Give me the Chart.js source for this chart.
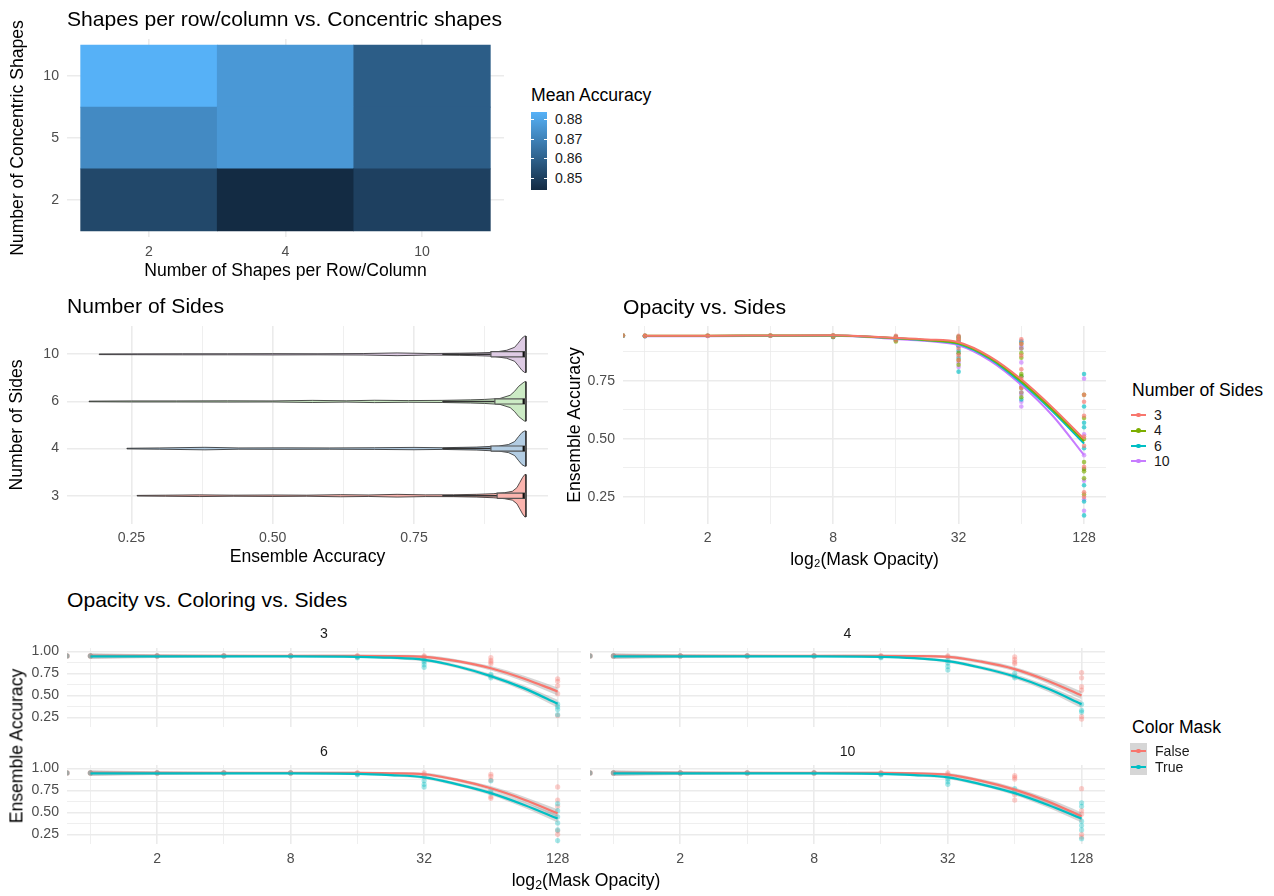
<!DOCTYPE html>
<html>
<head>
<meta charset="utf-8">
<script src="https://cdn.jsdelivr.net/npm/chart.js@4.4.1/dist/chart.umd.min.js"></script>
<style>
    body { margin: 0; background: #fff; }
    #page { position: relative; width: 1274px; height: 896px; overflow: hidden; font-family: "Liberation Sans", Arial, sans-serif; }
    #page canvas { position: absolute; }
    .txt { position: absolute; white-space: nowrap; line-height: 1.2; color: #000; }
    .txt sub { font-size: 70%; vertical-align: -0.25em; line-height: 0; }
    .box { position: absolute; }
</style>
</head>
<body>
<div id="page"></div>
<script>
// ─── Data ──────────────────────────────────────────────────────────────

// heatmap: mean accuracy, one array per number of concentric shapes
const shapesPerRow = ['2', '4', '10'];
const concentric   = ['2', '5', '10'];
const accConc2  = [0.8527, 0.8440, 0.8504];
const accConc5  = [0.8724, 0.8766, 0.8590];
const accConc10 = [0.8840, 0.8766, 0.8590];
const colorbarTicks = [0.85, 0.86, 0.87, 0.88];

// violins: accuracy knots and relative density (1 = widest violin)
const sideLevels = ['3', '4', '6', '10'];
const violinAcc3  = [0.26, 0.31, 0.37, 0.43, 0.50, 0.56, 0.62, 0.67, 0.72, 0.77, 0.82, 0.86, 0.89, 0.91, 0.924, 0.932, 0.937, 0.942, 0.946, 0.948];
const violinDen3  = [0.015, 0.025, 0.04, 0.025, 0.035, 0.025, 0.05, 0.035, 0.065, 0.04, 0.045, 0.065, 0.095, 0.14, 0.21, 0.38, 0.62, 0.86, 1.0, 1.0];
const violinAcc4  = [0.242, 0.30, 0.38, 0.44, 0.52, 0.60, 0.68, 0.75, 0.80, 0.86, 0.90, 0.917, 0.928, 0.935, 0.941, 0.946, 0.948];
const violinDen4  = [0.015, 0.03, 0.06, 0.03, 0.035, 0.03, 0.04, 0.055, 0.04, 0.07, 0.12, 0.19, 0.33, 0.57, 0.76, 0.83, 0.83];
const violinAcc6  = [0.175, 0.25, 0.33, 0.42, 0.50, 0.57, 0.63, 0.68, 0.74, 0.80, 0.85, 0.875, 0.902, 0.92, 0.928, 0.935, 0.943, 0.946, 0.948];
const violinDen6  = [0.015, 0.025, 0.025, 0.03, 0.025, 0.05, 0.03, 0.055, 0.04, 0.05, 0.075, 0.095, 0.14, 0.29, 0.48, 0.71, 0.88, 0.93, 0.93];
const violinAcc10 = [0.193, 0.26, 0.34, 0.42, 0.50, 0.58, 0.66, 0.72, 0.78, 0.83, 0.86, 0.89, 0.914, 0.928, 0.934, 0.941, 0.946, 0.948];
const violinDen10 = [0.015, 0.02, 0.025, 0.025, 0.03, 0.025, 0.035, 0.065, 0.035, 0.05, 0.065, 0.09, 0.19, 0.33, 0.52, 0.76, 0.86, 0.86];
const boxQ1      = [0.897, 0.886, 0.893, 0.886];
const boxMedian  = [0.944, 0.944, 0.944, 0.944];
const boxQ3      = [0.947, 0.947, 0.947, 0.947];
const whiskerLow = [0.80, 0.80, 0.80, 0.80];

// mask opacity levels (0 sits at -Inf on the log2 axis)
const opacity = [0, 1, 2, 4, 8, 16, 32, 64, 128];
// smoothed fits are read at these log2(opacity) values
const fitLog2 = [0, 1, 2, 3, 4, 4.5, 5, 5.5, 6, 6.5, 7];

// opacity vs. sides: smoothed fit, raw points per opacity level
const fitSides3  = [0.945, 0.945, 0.946, 0.947, 0.936, 0.929, 0.917, 0.855, 0.757, 0.635, 0.50];
const fitSides4  = [0.945, 0.945, 0.946, 0.946, 0.934, 0.926, 0.912, 0.849, 0.749, 0.626, 0.49];
const fitSides6  = [0.944, 0.944, 0.945, 0.946, 0.934, 0.925, 0.909, 0.845, 0.742, 0.618, 0.48];
const fitSides10 = [0.943, 0.943, 0.944, 0.945, 0.931, 0.922, 0.904, 0.838, 0.733, 0.600, 0.43];
const ptsSides3 = [[0.946], [0.946, 0.944], [0.946, 0.944], [0.946, 0.945], [0.947, 0.942], [0.945, 0.935, 0.925],
    [0.945, 0.935, 0.925, 0.91, 0.89, 0.86, 0.84], [0.93, 0.91, 0.89, 0.86, 0.80, 0.76, 0.72, 0.70],
    [0.69, 0.66, 0.60, 0.51, 0.47, 0.38, 0.27, 0.25]];
const ptsSides4 = [[0.946], [0.945, 0.944], [0.945], [0.946], [0.946, 0.94], [0.94, 0.93, 0.92],
    [0.94, 0.93, 0.91, 0.87, 0.84, 0.82], [0.91, 0.87, 0.85, 0.78, 0.77, 0.72, 0.68],
    [0.69, 0.59, 0.50, 0.40, 0.37, 0.36, 0.33, 0.26]];
const ptsSides6 = [[0.945], [0.945, 0.943], [0.945], [0.945], [0.945, 0.94], [0.94, 0.93, 0.925],
    [0.94, 0.92, 0.90, 0.88, 0.85, 0.79], [0.92, 0.89, 0.77, 0.74, 0.70, 0.67],
    [0.78, 0.64, 0.57, 0.55, 0.46, 0.30, 0.23, 0.17]];
const ptsSides10 = [[0.945], [0.944, 0.943], [0.944], [0.945], [0.945, 0.94], [0.94, 0.935, 0.93],
    [0.935, 0.92, 0.90, 0.87, 0.83, 0.81], [0.92, 0.90, 0.83, 0.73, 0.69, 0.66, 0.64],
    [0.76, 0.52, 0.43, 0.37, 0.32, 0.24, 0.19]];

// opacity vs. coloring vs. sides: fits, confidence half-width, raw points
const maskLevels = ['False', 'True'];
const ciHalf = [0.03, 0.018, 0.012, 0.01, 0.012, 0.014, 0.018, 0.02, 0.025, 0.033, 0.045];
const fitFalse3  = [0.95, 0.95, 0.95, 0.95, 0.95, 0.948, 0.94, 0.89, 0.81, 0.69, 0.545];
const fitTrue3   = [0.945, 0.945, 0.945, 0.945, 0.94, 0.93, 0.905, 0.83, 0.72, 0.58, 0.405];
const fitFalse4  = [0.95, 0.95, 0.95, 0.95, 0.95, 0.948, 0.94, 0.885, 0.80, 0.665, 0.50];
const fitTrue4   = [0.945, 0.945, 0.945, 0.945, 0.94, 0.925, 0.89, 0.815, 0.715, 0.575, 0.40];
const fitFalse6  = [0.95, 0.95, 0.95, 0.95, 0.95, 0.945, 0.935, 0.87, 0.775, 0.645, 0.49];
const fitTrue6   = [0.945, 0.945, 0.945, 0.945, 0.94, 0.925, 0.90, 0.82, 0.72, 0.585, 0.43];
const fitFalse10 = [0.95, 0.95, 0.95, 0.95, 0.95, 0.945, 0.93, 0.86, 0.76, 0.625, 0.455];
const fitTrue10  = [0.945, 0.945, 0.945, 0.945, 0.94, 0.925, 0.90, 0.82, 0.72, 0.585, 0.43];
const ptsFalse3 = [[0.95, 0.95, 0.95], [0.95, 0.95, 0.95], [0.95, 0.95, 0.95], [0.95, 0.95, 0.95], [0.95, 0.95, 0.95],
    [0.95, 0.94, 0.95], [0.95, 0.94, 0.93], [0.93, 0.90, 0.88, 0.86], [0.69, 0.66, 0.61, 0.52, 0.27]];
const ptsTrue3 = [[0.95], [0.95], [0.95], [0.95], [0.95], [0.94, 0.93], [0.90, 0.88, 0.85, 0.82], [0.74, 0.72, 0.70], [0.40, 0.37, 0.34, 0.28]];
const ptsFalse4 = [[0.95, 0.95, 0.95], [0.95, 0.95, 0.95], [0.95, 0.95, 0.95], [0.95, 0.95, 0.95], [0.95, 0.95, 0.95],
    [0.95, 0.94, 0.95], [0.95, 0.94], [0.94, 0.91, 0.88, 0.86], [0.76, 0.70, 0.60, 0.56, 0.26, 0.23]];
const ptsTrue4 = [[0.95], [0.95], [0.95], [0.95], [0.95], [0.94, 0.93], [0.90, 0.87, 0.83, 0.79], [0.75, 0.72, 0.70], [0.40, 0.33, 0.31]];
const ptsFalse6 = [[0.95, 0.95, 0.95], [0.95, 0.95, 0.95], [0.95, 0.95, 0.95], [0.95, 0.95, 0.95], [0.95, 0.95, 0.95],
    [0.95, 0.94, 0.95], [0.95, 0.93, 0.91], [0.935, 0.91, 0.87, 0.68, 0.66], [0.79, 0.64, 0.57, 0.29, 0.25]];
const ptsTrue6 = [[0.95], [0.95], [0.95], [0.95], [0.95], [0.94, 0.93], [0.86, 0.82, 0.79], [0.86, 0.75, 0.72], [0.60, 0.52, 0.45, 0.38, 0.30, 0.18]];
const ptsFalse10 = [[0.95, 0.95, 0.95], [0.95, 0.95, 0.95], [0.95, 0.95, 0.95], [0.95, 0.95, 0.95], [0.95, 0.95, 0.95],
    [0.95, 0.94, 0.95], [0.95, 0.93], [0.92, 0.90, 0.88, 0.70, 0.64], [0.77, 0.52, 0.48, 0.25, 0.22]];
const ptsTrue10 = [[0.95], [0.95], [0.95], [0.95], [0.95], [0.94, 0.93], [0.88, 0.85, 0.82], [0.77, 0.74], [0.61, 0.57, 0.40, 0.35, 0.30, 0.20]];

// ─── Styles ────────────────────────────────────────────────────────────

const FONT = '"Liberation Sans", Arial, sans-serif';
const TITLE_PX = 21.1, AXIS_PX = 17.6, TICK_PX = 14.1;
const GRID = '#EBEBEB';
const sideColors = ['#F8766D', '#7CAE00', '#00BFC4', '#C77CFF'];
const pastel     = ['#FBB4AE', '#B3CDE3', '#CCEBC5', '#DECBE4'];
const maskColors = ['#F8766D', '#00BFC4'];
const X_MIN = -0.35, X_MAX = 7.35;   // log2 axis limits; -Inf goes to X_MIN
const VIOLIN_HALF = 0.45, BOX_HALF = 0.055;

Chart.defaults.font.family = FONT;
Chart.defaults.color = '#4D4D4D';
Chart.defaults.animation = false;
Chart.defaults.events = [];
Chart.defaults.plugins.legend.display = false;
Chart.defaults.plugins.tooltip.enabled = false;

const page = document.getElementById('page');

// ─── Helpers ───────────────────────────────────────────────────────────

function addCanvas(left, top, w, h) {
    const c = document.createElement('canvas');
    c.width = w; c.height = h;
    c.style.cssText = `left:${left}px; top:${top}px; width:${w}px; height:${h}px;`;
    page.appendChild(c);
    return c;
}

function addText(html, x, cy, size, opts = {}) {
    const d = document.createElement('div');
    d.className = 'txt';
    d.innerHTML = html;
    d.style.fontSize = size + 'px';
    d.style.left = x + 'px';
    d.style.top = (cy - size * (opts.k || 0.6)) + 'px';
    if (opts.color) d.style.color = opts.color;
    if (opts.center) d.style.transform = 'translateX(-50%)';
    if (opts.rotate) {
        d.style.top = cy + 'px';
        d.style.transform = 'translate(-50%, -50%) rotate(-90deg)';
    }
    page.appendChild(d);
    return d;
}

function addBox(x, y, w, h, bg, radius) {
    const d = document.createElement('div');
    d.className = 'box';
    d.style.cssText = `left:${x}px; top:${y}px; width:${w}px; height:${h}px; background:${bg};` +
        (radius ? `border-radius:${radius}px;` : '');
    page.appendChild(d);
}

function rgba(hex, a) {
    const n = parseInt(hex.slice(1), 16);
    return `rgba(${n >> 16}, ${(n >> 8) & 255}, ${n & 255}, ${a})`;
}

const near = (list, v) => list.some(m => Math.abs(m - v) < 1e-6);

// linear axis with fixed box size, explicit ticks, major/minor grid
function axis(o) {
    const majors = o.majors || o.ticks;
    return {
        type: 'linear',
        min: o.min, max: o.max,
        offset: false,
        border: { display: false },
        grid: {
            color: GRID, drawTicks: false, offset: false,
            lineWidth: c => (c.tick && near(majors, c.tick.value)) ? 1.6 : 0.8
        },
        afterBuildTicks: s => { s.ticks = o.ticks.map(v => ({ value: v })); },
        afterFit: s => {
            if (s.isHorizontal()) s.height = o.size; else s.width = o.size;
            s.paddingTop = s.paddingBottom = s.paddingLeft = s.paddingRight = 0;
        },
        ticks: {
            display: o.labels !== false,
            autoSkip: false, maxRotation: 0, minRotation: 0,
            padding: o.tickPad ?? 8,
            font: { size: TICK_PX },
            color: '#4D4D4D',
            callback: v => near(majors, v) ? o.fmt(v) : ''
        },
        title: o.title
            ? { display: true, text: o.title, color: '#000', font: { size: AXIS_PX }, padding: o.titlePad }
            : { display: false }
    };
}

const lx = o => o === 0 ? X_MIN : Math.log2(o);

function pointsFrom(rows) {
    const out = [];
    rows.forEach((vals, i) => vals.forEach(v => out.push({ x: lx(opacity[i]), y: v })));
    return out;
}

function curve(vals, sign = 0) {
    return fitLog2.map((x, i) => ({ x, y: vals[i] + sign * ciHalf[i] }));
}

const log2Ticks  = [0, 1, 2, 3, 4, 5, 6, 7];
const log2Majors = [1, 3, 5, 7];

// ─── Heatmap ───────────────────────────────────────────────────────────

const concRows = [accConc2, accConc5, accConc10];
const allAcc = concRows.flat();
const accMin = Math.min(...allAcc), accMax = Math.max(...allAcc);
const LOW = [19, 43, 67], HIGH = [86, 177, 247];

function accColor(v) {
    const t = (v - accMin) / (accMax - accMin);
    return 'rgb(' + LOW.map((c, k) => Math.round(c + (HIGH[k] - c) * t)).join(',') + ')';
}

new Chart(addCanvas(0, 0, 520, 290), {
    type: 'bar',
    data: {
        datasets: concRows.map((row, r) => ({
            data: row.map((v, c) => ({ x: c + 1, y: [r + 0.5, r + 1.5] })),
            backgroundColor: row.map(accColor),
            grouped: false,
            barPercentage: 1,
            categoryPercentage: 1,
            borderWidth: 0
        }))
    },
    options: {
        responsive: false,
        layout: { padding: { top: 39, right: 16, bottom: 5, left: 0 } },
        scales: {
            x: axis({ min: 0.4, max: 3.6, ticks: [1, 2, 3], fmt: v => shapesPerRow[v - 1], size: 48, tickPad: 7,
                title: 'Number of Shapes per Row/Column', titlePad: { top: 0, bottom: 2.9 } }),
            y: axis({ min: 0.4, max: 3.6, ticks: [1, 2, 3], fmt: v => concentric[v - 1], size: 67,
                title: 'Number of Concentric Shapes', titlePad: { top: 7.9, bottom: 0 } })
        }
    }
});

// colorbar legend
const CB = { left: 531, top: 112, w: 16, h: 78 };
const stops = [];
for (let k = 0; k <= 10; k++) {
    stops.push(accColor(accMax - (accMax - accMin) * k / 10) + ' ' + (k * 10) + '%');
}
addBox(CB.left, CB.top, CB.w, CB.h, 'linear-gradient(to bottom, ' + stops.join(', ') + ')');
colorbarTicks.forEach(v => {
    const y = CB.top + (accMax - v) / (accMax - accMin) * CB.h;
    addBox(CB.left, y - 0.5, 3, 1, '#fff');
    addBox(CB.left + CB.w - 3, y - 0.5, 3, 1, '#fff');
    addText(v.toFixed(2), 555, y, TICK_PX, { color: '#1A1A1A' });
});
addText('Mean Accuracy', 531, 95, AXIS_PX, { k: 0.55 });
addText('Shapes per row/column vs. Concentric shapes', 67, 18, TITLE_PX, { k: 0.55 });

// ─── Violins ───────────────────────────────────────────────────────────

const violinAcc = [violinAcc3, violinAcc4, violinAcc6, violinAcc10];
const violinDen = [violinDen3, violinDen4, violinDen6, violinDen10];
const violinSets = [];

sideLevels.forEach((s, i) => {
    const yc = i + 1;
    const top = violinAcc[i].map((a, k) => ({ x: a, y: yc + violinDen[i][k] * VIOLIN_HALF }));
    const bottom = violinAcc[i].map((a, k) => ({ x: a, y: yc - violinDen[i][k] * VIOLIN_HALF })).reverse();
    const line = { showLine: true, pointRadius: 0, tension: 0 };

    violinSets.push({ ...line, data: top.concat(bottom, [top[0]]), fill: 'shape',
        backgroundColor: pastel[i], borderColor: 'rgba(30,30,30,0.85)', borderWidth: 0.9, order: 3 });
    violinSets.push({ ...line, data: [{ x: whiskerLow[i], y: yc }, { x: boxQ1[i], y: yc }],
        borderColor: '#333', borderWidth: 1.4, order: 2 });
    violinSets.push({ ...line, fill: 'shape', backgroundColor: pastel[i], borderColor: '#555', borderWidth: 1.2, order: 1,
        data: [
            { x: boxQ1[i], y: yc - BOX_HALF }, { x: boxQ1[i], y: yc + BOX_HALF },
            { x: boxQ3[i], y: yc + BOX_HALF }, { x: boxQ3[i], y: yc - BOX_HALF },
            { x: boxQ1[i], y: yc - BOX_HALF }
        ] });
    violinSets.push({ ...line, data: [{ x: boxMedian[i], y: yc - BOX_HALF }, { x: boxMedian[i], y: yc + BOX_HALF }],
        borderColor: '#111', borderWidth: 2.2, order: 0 });
});

new Chart(addCanvas(0, 290, 560, 290), {
    type: 'scatter',
    data: { datasets: violinSets },
    options: {
        responsive: false,
        layout: { padding: { top: 36, right: 12, bottom: 7, left: 0 } },
        scales: {
            x: axis({ min: 0.136, max: 0.987, ticks: [0.25, 0.375, 0.5, 0.625, 0.75, 0.875], majors: [0.25, 0.5, 0.75],
                fmt: v => v.toFixed(2), size: 49, tickPad: 5.5,
                title: 'Ensemble Accuracy', titlePad: { top: 0, bottom: 4.9 } }),
            y: axis({ min: 0.4, max: 4.6, ticks: [1, 2, 3, 4], fmt: v => sideLevels[v - 1], size: 67,
                title: 'Number of Sides', titlePad: { top: 6.9, bottom: 0 } })
        }
    }
});
addText('Number of Sides', 67, 305, TITLE_PX, { k: 0.55 });

// ─── Opacity vs. Sides ─────────────────────────────────────────────────

const sidePts = [ptsSides3, ptsSides4, ptsSides6, ptsSides10];
const sideFits = [fitSides3, fitSides4, fitSides6, fitSides10];

new Chart(addCanvas(560, 290, 556, 290), {
    type: 'scatter',
    data: {
        datasets: sidePts.map((p, i) => ({
            data: pointsFrom(p), pointRadius: 2.3, borderWidth: 0,
            backgroundColor: rgba(sideColors[i], 0.65), order: 2
        })).concat(sideFits.map((f, i) => ({
            data: curve(f), showLine: true, pointRadius: 0, borderWidth: 2,
            borderColor: sideColors[i], cubicInterpolationMode: 'monotone', order: 1
        })))
    },
    options: {
        responsive: false,
        layout: { padding: { top: 36, right: 10, bottom: 7, left: 0 } },
        scales: {
            x: axis({ min: X_MIN, max: X_MAX, ticks: log2Ticks, majors: log2Majors, fmt: v => String(2 ** v),
                size: 49, tickPad: 5.5, title: 'log\u2082(Mask Opacity)', titlePad: { top: 0, bottom: 1.9 } }),
            y: axis({ min: 0.133, max: 0.987, ticks: [0.25, 0.375, 0.5, 0.625, 0.75, 0.875], majors: [0.25, 0.5, 0.75],
                fmt: v => v.toFixed(2), size: 63, title: 'Ensemble Accuracy', titlePad: { top: 4.9, bottom: 0 } })
        }
    }
});
addText('Opacity vs. Sides', 623, 306, TITLE_PX, { k: 0.55 });

// legend: Number of Sides
addText('Number of Sides', 1132, 390, AXIS_PX, { k: 0.55 });
[415, 430.5, 446, 461].forEach((y, i) => {
    addBox(1131, y - 1, 15, 2, sideColors[i]);
    addBox(1136.3, y - 2.2, 4.4, 4.4, sideColors[i], 3);
    addText(sideLevels[i], 1154, y, TICK_PX, { color: '#1A1A1A' });
});

// ─── Opacity vs. Coloring vs. Sides (facets) ───────────────────────────

function facet(canvas, side, fits, pts, f) {
    const datasets = [];
    fits.forEach((fit, m) => {
        datasets.push({ data: pointsFrom(pts[m]), pointRadius: 2.6, borderWidth: 0,
            backgroundColor: rgba(maskColors[m], 0.35), order: 5 - m });
    });
    fits.forEach(fit => {
        const band = { showLine: true, pointRadius: 0, borderWidth: 0, cubicInterpolationMode: 'monotone', order: 3 };
        datasets.push({ ...band, data: curve(fit, 1), fill: '+1', backgroundColor: 'rgba(153,153,153,0.4)' });
        datasets.push({ ...band, data: curve(fit, -1), fill: false });
    });
    fits.forEach((fit, m) => {
        datasets.push({ data: curve(fit), showLine: true, pointRadius: 0, borderWidth: 2.2,
            borderColor: maskColors[m], cubicInterpolationMode: 'monotone', order: 1 - m });
    });

    return new Chart(canvas, {
        type: 'scatter',
        data: { datasets },
        options: {
            responsive: false,
            layout: { padding: f.padding },
            plugins: {
                title: {
                    display: true, text: side, align: 'center', fullSize: false,
                    color: '#1A1A1A', font: { size: TICK_PX, weight: 'normal' }, padding: f.titlePad
                }
            },
            scales: {
                x: axis({ min: X_MIN, max: X_MAX, ticks: log2Ticks, majors: log2Majors, fmt: v => String(2 ** v),
                    size: f.showX ? 30 : 0, labels: f.showX, tickPad: 6.5 }),
                y: axis({ min: 0.14, max: 1.04, ticks: [0.25, 0.375, 0.5, 0.625, 0.75, 0.875, 1.0],
                    majors: [0.25, 0.5, 0.75, 1.0], fmt: v => v.toFixed(2), size: f.showY ? 67 : 0, labels: f.showY })
            }
        }
    });
}

const topPad = { top: 10.55, bottom: 5.55 };
const botPad = { top: 11.55, bottom: 4.55 };

facet(addCanvas(0, 615, 590, 118), '3', [fitFalse3, fitTrue3], [ptsFalse3, ptsTrue3],
    { padding: { top: 0, left: 0, right: 9, bottom: 6 }, titlePad: topPad, showX: false, showY: true });
facet(addCanvas(585, 615, 530, 118), '4', [fitFalse4, fitTrue4], [ptsFalse4, ptsTrue4],
    { padding: { top: 0, left: 5, right: 10, bottom: 6 }, titlePad: topPad, showX: false, showY: false });
facet(addCanvas(0, 732, 590, 142), '6', [fitFalse6, fitTrue6], [ptsFalse6, ptsTrue6],
    { padding: { top: 0, left: 0, right: 9, bottom: 0 }, titlePad: botPad, showX: true, showY: true });
facet(addCanvas(585, 732, 530, 142), '10', [fitFalse10, fitTrue10], [ptsFalse10, ptsTrue10],
    { padding: { top: 0, left: 5, right: 10, bottom: 0 }, titlePad: botPad, showX: true, showY: false });

addText('Opacity vs. Coloring vs. Sides', 67, 599, TITLE_PX, { k: 0.55 });
addText('Ensemble Accuracy', 17, 746, AXIS_PX, { rotate: true });
addText('log<sub>2</sub>(Mask Opacity)', 586, 880, AXIS_PX, { center: true, k: 0.55 });

// legend: Color Mask
addText('Color Mask', 1132, 727, AXIS_PX, { k: 0.55 });
addBox(1130, 743, 17, 32, '#D6D6D6');
[751, 767].forEach((y, m) => {
    addBox(1131, y - 1, 15, 2, maskColors[m]);
    addBox(1136.3, y - 2.2, 4.4, 4.4, maskColors[m], 3);
    addText(maskLevels[m], 1155, y, TICK_PX, { color: '#1A1A1A', k: 0.6 });
});
</script>
</body>
</html>
